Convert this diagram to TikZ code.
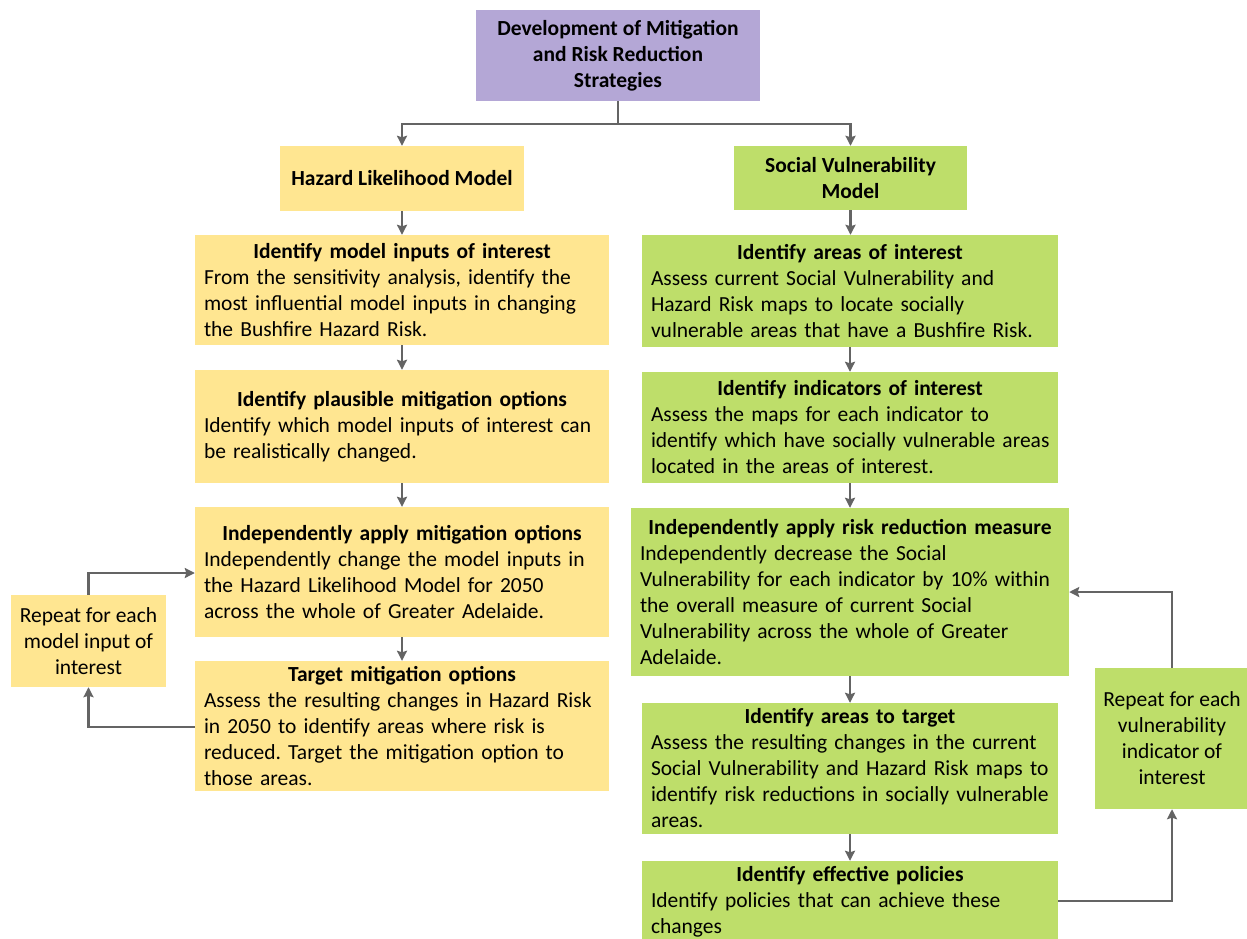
\documentclass[tikz,border=0pt]{standalone}
\usepackage{fontspec}
\setmainfont{Carlito}
\usetikzlibrary{arrows.meta,positioning}
\frenchspacing

\definecolor{boxpurple}{RGB}{180,167,214}
\definecolor{boxyellow}{RGB}{255,230,145}
\definecolor{boxgreen}{RGB}{190,222,106}
\definecolor{linkgray}{RGB}{100,100,100}

% one centred bold heading row and one left-aligned body row of a box
\newcommand\headrow[1]{\makebox[\hsize]{\bfseries #1}}
\newcommand\bodyrow[1]{\makebox[\hsize][l]{#1}}

\tikzset{
  x=1pt, y=1pt,
  box/.style={rectangle, draw=none, inner xsep=9pt, inner ysep=0pt,
    font=\fontsize{21.5pt}{26pt}\selectfont, align=left, text=black},
  ybox/.style={box, fill=boxyellow},
  gbox/.style={box, fill=boxgreen},
  arr/.style={draw=linkgray, line width=2.5pt,
    -{Stealth[length=10pt,width=10pt,inset=1.5pt]}},
  link/.style={draw=linkgray, line width=2.5pt}
}

\begin{document}
\begin{tikzpicture}
\useasboundingbox (0,0) rectangle (1247,-938);

% title
\node[box, fill=boxpurple, align=center, minimum width=284pt, minimum height=91pt,
      font=\fontsize{21.5pt}{26pt}\selectfont\bfseries]
  (top) at (618,-55.5) {Development of Mitigation\\and Risk Reduction\\Strategies};

% model headings
\node[ybox, align=center, minimum width=244pt, minimum height=65pt,
      font=\fontsize{21.5pt}{26pt}\selectfont\bfseries]
  (haz) at (402,-178.5) {Hazard Likelihood Model};
\node[gbox, align=center, minimum width=233pt, minimum height=64pt,
      font=\fontsize{21.5pt}{26pt}\selectfont\bfseries]
  (soc) at (850.5,-178) {Social Vulnerability\\Model};

% hazard branch
\node[ybox, text width=396pt, minimum height=110pt] (L1) at (402,-290) {%
  \headrow{Identify model inputs of interest}\\
  \bodyrow{From the sensitivity analysis, identify the}\\
  \bodyrow{most influential model inputs in changing}\\
  \bodyrow{the Bushfire Hazard Risk.}};
\node[ybox, text width=396pt, minimum height=113pt] (L2) at (402,-426.5) {%
  \headrow{Identify plausible mitigation options}\\
  \bodyrow{Identify which model inputs of interest can}\\
  \bodyrow{be realistically changed.}};
\node[ybox, text width=396pt, minimum height=130pt] (L3) at (402,-572) {%
  \headrow{Independently apply mitigation options}\\
  \bodyrow{Independently change the model inputs in}\\
  \bodyrow{the Hazard Likelihood Model for 2050}\\
  \bodyrow{across the whole of Greater Adelaide.}};
\node[ybox, text width=396pt, minimum height=130pt] (L4) at (402,-726) {%
  \headrow{Target mitigation options}\\
  \bodyrow{Assess the resulting changes in Hazard Risk}\\
  \bodyrow{in 2050 to identify areas where risk is}\\
  \bodyrow{reduced. Target the mitigation option to}\\
  \bodyrow{those areas.}};
\node[ybox, align=center, minimum width=155pt, minimum height=92pt, inner xsep=4pt]
  (repL) at (88.5,-641) {Repeat for each\\model input of\\interest};

% social vulnerability branch
\node[gbox, text width=398pt, minimum height=112pt] (R1) at (850,-291) {%
  \headrow{Identify areas of interest}\\
  \bodyrow{Assess current Social Vulnerability and}\\
  \bodyrow{Hazard Risk maps to locate socially}\\
  \bodyrow{vulnerable areas that have a Bushfire Risk.}};
\node[gbox, text width=398pt, minimum height=111pt] (R2) at (850,-427.5) {%
  \headrow{Identify indicators of interest}\\
  \bodyrow{Assess the maps for each indicator to}\\
  \bodyrow{identify which have socially vulnerable areas}\\
  \bodyrow{located in the areas of interest.}};
\node[gbox, text width=420pt, minimum height=168pt] (R3) at (850,-592) {%
  \headrow{Independently apply risk reduction measure}\\
  \bodyrow{Independently decrease the Social}\\
  \bodyrow{Vulnerability for each indicator by 10\% within}\\
  \bodyrow{the overall measure of current Social}\\
  \bodyrow{Vulnerability across the whole of Greater}\\
  \bodyrow{Adelaide.}};
\node[gbox, text width=398pt, minimum height=131pt] (R4) at (850,-768.5) {%
  \headrow{Identify areas to target}\\
  \bodyrow{Assess the resulting changes in the current}\\
  \bodyrow{Social Vulnerability and Hazard Risk maps to}\\
  \bodyrow{identify risk reductions in socially vulnerable}\\
  \bodyrow{areas.}};
\node[gbox, text width=398pt, minimum height=82pt] (R5) at (850,-902) {%
  \headrow{Identify effective policies}\\
  \bodyrow{Identify policies that can achieve these}\\
  \bodyrow{changes}};
\node[gbox, align=center, minimum width=154pt, minimum height=141pt, inner xsep=4pt]
  (repR) at (1172,-738.5) {Repeat for each\\vulnerability\\indicator of\\interest};

% split from the title into the two models
\coordinate (split) at (618,-124);
\draw[link] (top.south) -- (split);
\draw[arr] (split) -| (haz.north);
\draw[arr] (split) -| (soc.north);

% hazard chain
\draw[arr] (haz.south) -- (L1.north);
\draw[arr] (L1.south) -- (L2.north);
\draw[arr] (L2.south) -- (L3.north);
\draw[arr] (L3.south) -- (L4.north);
\draw[arr] (L4.west |- 0,-727) -| (repL.south);
\draw[arr] (repL.north) |- (L3.west |- 0,-573);

% social vulnerability chain
\draw[arr] (soc.south) -- (soc.south |- R1.north);
\draw[arr] (R1.south) -- (R2.north);
\draw[arr] (R2.south) -- (R3.north);
\draw[arr] (R3.south) -- (R4.north);
\draw[arr] (R4.south) -- (R5.north);
\draw[arr] (R5.east |- 0,-901) -| (repR.south);
\draw[arr] (repR.north) |- (R3.east);
\end{tikzpicture}
\end{document}
